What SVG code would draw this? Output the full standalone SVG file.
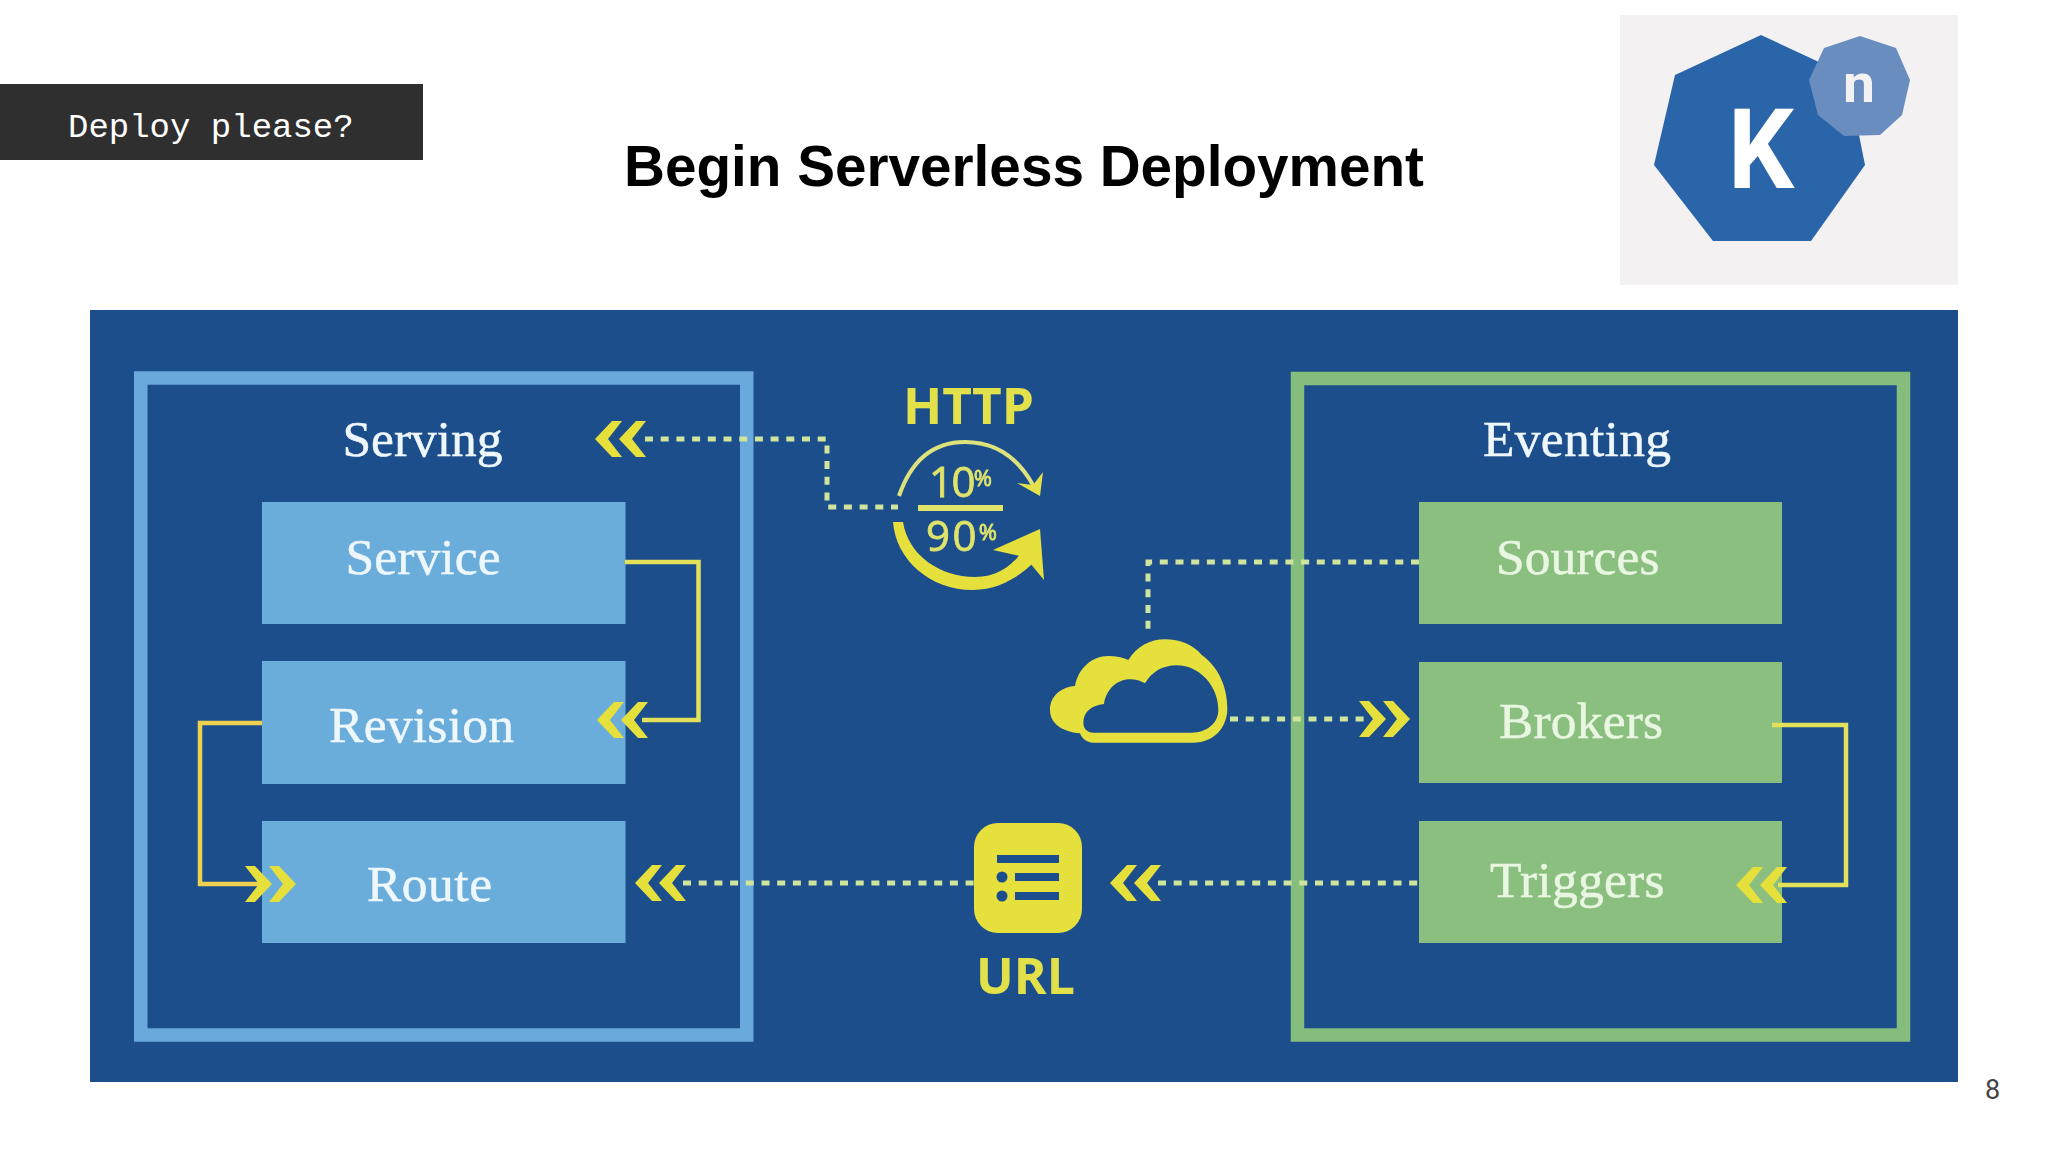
<svg xmlns="http://www.w3.org/2000/svg" width="2048" height="1152" viewBox="0 0 2048 1152">
<style>
.lab{font-family:"Liberation Serif",serif;font-size:51.5px;fill:#eef7fc;stroke:#eef7fc;stroke-width:.5}
.labg{font-family:"Liberation Serif",serif;font-size:51.5px;fill:#e9f6e2;stroke:#e9f6e2;stroke-width:.5}
.blue{fill:#6aaddb}
.green{fill:#8bbf80}
.frame{fill:none;stroke-width:13.5}
.solid{fill:none;stroke:#e3e05a;stroke-width:4.5}
.dot{fill:none;stroke:#cfe49c;stroke-width:5;stroke-dasharray:8 7.7}
.yel{fill:#e6e03e}
.num{font-family:"Open Sans",sans-serif;fill:#dfe36a;stroke:#dfe36a;stroke-width:.8}
.head{font-family:"Open Sans",sans-serif;font-weight:700;fill:#e2e14a}
</style>
<defs>
<path id="chev" d="M0 0L17 -18L27 -18L13 0L27 18L17 18Z"/>
<g id="dbl"><use href="#chev"/><use href="#chev" x="24"/></g>
<filter id="soft" filterUnits="userSpaceOnUse" x="0" y="0" width="2048" height="1152"><feGaussianBlur stdDeviation=".7"/></filter>
</defs>
<rect width="2048" height="1152" fill="#fff"/>
<g id="tag"><rect x="0" y="84" width="423" height="76" fill="#2f2f2f"/>
<text x="68" y="137" font-family="'Liberation Mono',monospace" font-size="34" fill="#fff">Deploy please?</text></g>
<text id="title" x="624" y="186" font-family="'Liberation Sans',Arial,sans-serif" font-weight="700" font-size="57" fill="#000" textLength="800" lengthAdjust="spacingAndGlyphs">Begin Serverless Deployment</text>
<g id="logo">
<rect x="1620" y="15" width="338" height="270" fill="#f3f1f1"/>
<polygon points="1761,35 1847,75 1865,165 1811,241 1713,241 1654,165 1675,75" fill="#2a65a9"/>
<polygon points="1860,36 1896,48 1910,80 1902,115 1880,135 1844,136 1818,115 1809,80 1824,48" fill="#6a8dbf"/>
<text x="1728" y="188" font-family="Roboto,sans-serif" font-weight="700" font-size="112" fill="#fff" textLength="66" lengthAdjust="spacingAndGlyphs">K</text>
<text x="1843" y="102" font-family="Roboto,sans-serif" font-weight="700" font-size="54" fill="#f2f2f2" textLength="32" lengthAdjust="spacingAndGlyphs">n</text>
</g>
<rect id="panel" x="90" y="310" width="1868" height="772" fill="#1c4e8c"/>
<g id="content" filter="url(#soft)">
<g id="serving"><rect class="frame" x="140.75" y="378" width="606" height="657" stroke="#6aa9db"/>
<text class="lab" x="342.5" y="456" textLength="160">Serving</text></g>
<g id="eventing"><rect class="frame" x="1297.5" y="378.5" width="606" height="656.5" stroke="#85bd7d"/>
<text class="lab" x="1483" y="455.5" textLength="188">Eventing</text></g>
<g id="service"><rect class="blue" x="262" y="502" width="363.5" height="122"/><text class="lab" x="345.5" y="574" textLength="155">Service</text></g>
<g id="revision"><rect class="blue" x="262" y="661" width="363.5" height="123"/><text class="lab" x="329" y="742" textLength="185">Revision</text></g>
<g id="route"><rect class="blue" x="262" y="821" width="363.5" height="122"/><text class="lab" x="367" y="901" textLength="125">Route</text></g>
<g id="sources"><rect class="green" x="1419" y="502" width="363" height="122"/><text class="labg" x="1496" y="574" textLength="163.5">Sources</text></g>
<g id="brokers"><rect class="green" x="1419" y="662" width="363" height="121"/><text class="labg" x="1499" y="738" textLength="164">Brokers</text></g>
<g id="triggers"><rect class="green" x="1419" y="821" width="363" height="122"/><text class="labg" x="1490" y="897" textLength="174.5">Triggers</text></g>
<g id="http">
<text class="head" x="903" y="424" font-size="50" textLength="131" lengthAdjust="spacingAndGlyphs">HTTP</text>
<text class="num" x="929" y="497" font-size="42" textLength="63">10<tspan font-size="22" dy="-11">%</tspan></text>
<line x1="918" y1="508" x2="1003" y2="508" stroke="#dfe36a" stroke-width="6"/>
<text class="num" x="926" y="551" font-size="42" textLength="71">90<tspan font-size="22" dy="-11">%</tspan></text>
<path d="M899 496C912 458 935 442 965 442C995 442 1018 458 1033 485" fill="none" stroke="#dde27a" stroke-width="4"/>
<polygon points="1017,483 1040,496 1043,472 1033,485" fill="#e2e14a"/>
<path class="yel" d="M893 522C896 560 930 590 973 590C1000 590 1022 575 1036 560L1022 552C1010 568 995 577 975 577C940 577 908 555 903 522Z"/>
<polygon class="yel" points="993,550 1040,529 1044,580 1025,557"/>
</g>
<g id="cloud"><path class="yel" fill-rule="evenodd" transform="translate(1030 600) scale(.33333)" d="M150 400C95 395 60 370 60 330C60 290 90 262 135 258C145 205 185 168 235 168C258 168 278 172 295 180C320 140 360 118 405 118C450 118 490 135 515 165C565 200 592 260 592 325C592 385 550 428 490 428L190 428C170 428 155 415 150 400ZM160 368C160 335 185 316 222 312C228 270 260 238 300 238C318 238 333 243 345 250C365 215 400 196 440 196C510 196 565 260 565 330C565 370 530 398 485 398L190 398C172 398 160 385 160 368Z"/></g>
<g id="url"><rect class="yel" x="974" y="823" width="108" height="110" rx="24"/>
<g fill="#1c4e8c"><rect x="997" y="855" width="62" height="8"/><rect x="1015" y="873" width="44" height="8"/><rect x="1015" y="892" width="44" height="8"/><circle cx="1002" cy="877" r="5.5"/><circle cx="1002" cy="896" r="5.5"/></g>
<text class="head" x="976" y="994" font-size="50" textLength="99" lengthAdjust="spacingAndGlyphs">URL</text></g>
<g id="connectors">
<path class="dot" d="M645 439H827V507H898"/>
<path class="dot" d="M683 883H974"/>
<path class="dot" d="M1158 883H1419"/>
<path class="dot" d="M1419 562H1148V635"/>
<path class="dot" d="M1230 719H1365"/>
<path class="solid" d="M625 562H698.5V720H642"/>
<path class="solid" d="M262 723H200V884H262" style="stroke:#edd14f"/>
<path class="solid" d="M1772 725H1846V885H1778"/>
<g class="yel">
<use href="#dbl" x="595" y="439"/>
<use href="#dbl" x="597" y="720"/>
<use href="#dbl" x="635" y="883"/>
<use href="#dbl" x="1110" y="883"/>
<use href="#dbl" x="1736" y="885"/>
<use href="#dbl" transform="translate(1410 719) scale(-1 1)"/>
<use href="#dbl" transform="translate(296 884) scale(-1 1)"/>
</g>
</g>
</g>
<text id="page" x="1985" y="1099" font-family="Roboto,sans-serif" font-size="27" fill="#444">8</text>
</svg>
